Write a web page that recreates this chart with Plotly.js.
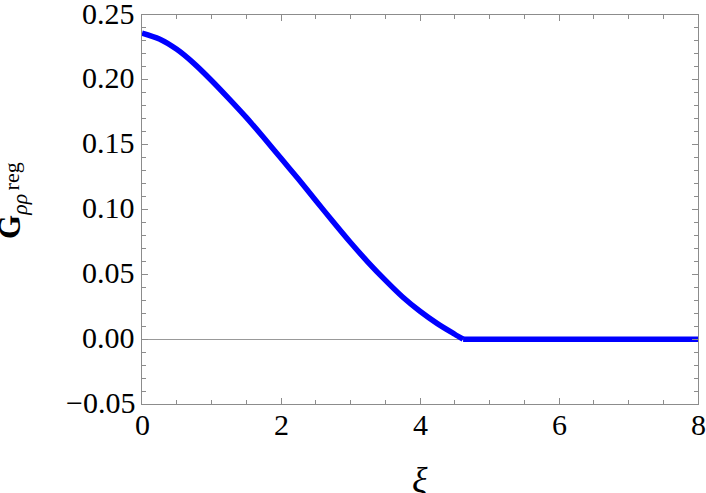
<!DOCTYPE html>
<html>
<head>
<meta charset="utf-8">
<script src="https://cdn.plot.ly/plotly-3.0.1.min.js"></script>
<style>
  html, body { margin: 0; padding: 0; background: #fff; }
  #chart { width: 706px; height: 493px; }
</style>
</head>
<body>
<div id="chart"></div>
<script>
// curve: G_rr^reg against xi (nonzero part)
const xi = [0, 0.25, 0.5, 0.75, 1.0, 1.25, 1.5, 1.75, 2.0, 2.25, 2.5, 2.75,
            3.0, 3.25, 3.5, 3.75, 4.0, 4.25, 4.5, 4.62];
const gReg = [0.2360, 0.2315, 0.2235, 0.2125, 0.1995, 0.1855, 0.1710, 0.1555,
              0.1395, 0.1235, 0.1070, 0.0905, 0.0745, 0.0595, 0.0455, 0.0325,
              0.0215, 0.0120, 0.0038, 0];
// flat tail after the kink
const xiTail = [4.62, 8];
const gTail = [0, 0];

const xTicks = [0, 2, 4, 6, 8];
const xTickText = ['0', '2', '4', '6', '8'];
const yTicks = [-0.05, 0, 0.05, 0.10, 0.15, 0.20, 0.25];
const yTickText = ['\u22120.05', '0.00', '0.05', '0.10', '0.15', '0.20', '0.25'];

const serif = '"Liberation Serif", "Times New Roman", serif';
const frameColor = '#8c8c8c';
const blue = '#0000ff';
const labelFont = { family: serif, size: 30, color: '#000' };

const traces = [
    {
        x: xi, y: gReg, mode: 'lines',
        line: { color: blue, width: 5.5, shape: 'spline', smoothing: 0.8 },
        hoverinfo: 'skip'
    },
    {
        x: xiTail, y: gTail, mode: 'lines',
        line: { color: blue, width: 5.5 },
        hoverinfo: 'skip'
    }
];

// tick labels are placed as annotations so they sit as close to the frame as in the original
const annotations = [];
xTicks.forEach((v, i) => {
    annotations.push({
        xref: 'x', yref: 'paper', x: v, y: 0,
        xanchor: 'center', yanchor: 'top', yshift: -2,
        text: xTickText[i], showarrow: false, font: labelFont
    });
});
yTicks.forEach((v, i) => {
    annotations.push({
        xref: 'paper', yref: 'y', x: 0, y: v,
        xanchor: 'right', yanchor: 'middle', xshift: -5, yshift: 2,
        text: yTickText[i], showarrow: false, font: labelFont
    });
});
// axis titles
annotations.push({
    xref: 'paper', yref: 'paper', x: 0.5, y: 0,
    xanchor: 'center', yanchor: 'top', yshift: -55, borderpad: 0,
    text: '<i>ξ</i>', showarrow: false, font: { family: serif, size: 36, color: '#000' }
});
// y title in two pieces: the superscript sits only slightly raised in the original
annotations.push({
    xref: 'paper', yref: 'paper', x: 0, y: 0.481,
    xanchor: 'center', yanchor: 'middle', xshift: -130, borderpad: 0,
    textangle: -90,
    text: '<b>G</b><sub><i>ρρ</i></sub>', showarrow: false,
    font: { family: serif, size: 31, color: '#000' }
});
annotations.push({
    xref: 'paper', yref: 'paper', x: 0, y: 0.585,
    xanchor: 'center', yanchor: 'middle', xshift: -131, borderpad: 0,
    textangle: -90,
    text: 'reg', showarrow: false,
    font: { family: serif, size: 22, color: '#000' }
});

const layout = {
    width: 706,
    height: 493,
    margin: { l: 142, r: 8, t: 15, b: 89 },
    paper_bgcolor: '#fff',
    plot_bgcolor: '#fff',
    showlegend: false,
    font: { family: serif, color: '#000', size: 30 },
    xaxis: {
        range: [0, 8],
        tickvals: xTicks,
        showticklabels: false,
        ticks: 'inside',
        ticklen: 6,
        tickwidth: 1,
        tickcolor: frameColor,
        showline: true,
        linecolor: frameColor,
        linewidth: 1,
        mirror: 'ticks',
        showgrid: false,
        zeroline: false,
        minor: { dtick: 0.5, ticks: 'inside', ticklen: 4, tickcolor: frameColor, showgrid: false }
    },
    yaxis: {
        range: [-0.05, 0.25],
        tickvals: yTicks,
        showticklabels: false,
        ticks: 'inside',
        ticklen: 6,
        tickwidth: 1,
        tickcolor: frameColor,
        showline: true,
        linecolor: frameColor,
        linewidth: 1,
        mirror: 'ticks',
        showgrid: false,
        zeroline: true,
        zerolinecolor: '#999',
        zerolinewidth: 1,
        minor: { dtick: 0.01, ticks: 'inside', ticklen: 4, tickcolor: frameColor, showgrid: false }
    },
    annotations: annotations
};

Plotly.newPlot('chart', traces, layout, { staticPlot: true, displayModeBar: false });
</script>
</body>
</html>
